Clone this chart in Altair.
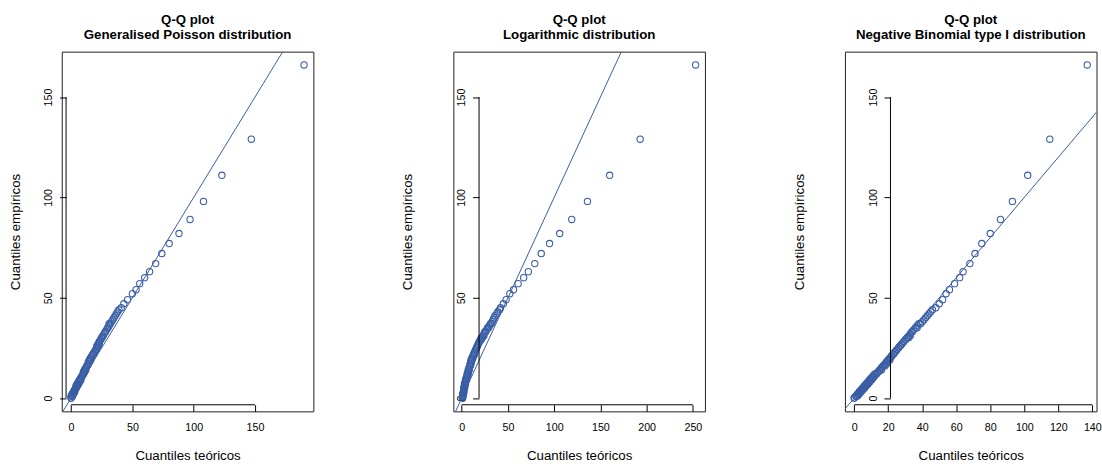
import altair as alt
import pandas as pd

# ---------------- data ----------------
emp = [0, 0, 1, 1, 1, 1, 2, 2, 2, 3, 3, 3, 3, 4, 4, 4, 5, 5, 5, 5, 6, 6, 6, 7, 7, 7, 7, 8, 8, 8, 9, 9, 9, 9, 10, 10, 10,
       11, 11, 12, 12, 12, 13, 13, 13, 14, 14, 14, 15, 15, 16, 16, 16, 17, 17, 18, 18, 19, 19, 19, 20, 20,
       21, 21, 22, 22, 22, 23, 23, 24, 24, 25, 25, 26, 26, 26, 27, 27, 28, 28, 29, 29, 30, 30, 30, 31, 31,
       32, 33, 33, 34, 35, 35, 36, 37, 37, 38,
       39, 40, 41, 42, 43, 44, 45, 47, 49,
       52, 54, 57, 60, 63, 67, 72, 77, 82, 89, 98, 111, 129, 166]

teo_gp = [0, 0, 0, 1, 1, 1, 1, 1, 2, 2, 2, 2, 3, 3, 3, 3, 4, 4, 4, 4, 4, 5, 5, 5, 5, 6, 6, 6, 6, 7, 7, 7, 7, 8, 8, 8, 8,
          9, 9, 10, 10, 10, 10, 11, 11, 11, 11, 12, 12, 12, 13, 13, 13, 14, 14, 14, 15, 15, 15, 16, 16, 16,
          17, 17, 18, 18, 18, 19, 19, 20, 20, 21, 21, 21, 22, 22, 22, 23, 23, 23, 24, 24, 25, 25, 25, 26, 26,
          27, 28, 28, 29, 30, 30, 31, 31, 32, 33,
          34, 35, 36, 37, 38, 39, 41, 43, 46,
          50, 53, 56, 60, 64, 69, 74, 80, 88, 97, 108, 123, 147, 190]

teo_log = [1, 1, 1, 1, 1, 1, 1, 1, 2, 2, 2, 2, 2, 2, 2, 2, 2, 3, 3, 3, 3, 3, 3, 3, 3, 4, 4, 4, 4, 4, 4, 5, 5, 5, 5, 5, 5,
           6, 6, 6, 6, 7, 7, 7, 7, 7, 8, 8, 8, 8, 9, 9, 9, 9, 10, 10, 10, 10, 11, 11, 11, 12,
           12, 13, 13, 13, 14, 14, 14, 15, 15, 16, 16, 17, 17, 17, 18, 18, 19, 19, 20, 21, 21, 22, 22, 23, 24,
           24, 25, 26, 27, 28, 29, 30, 31, 32, 33,
           34, 35, 36, 38, 39, 41, 42, 45, 48,
           52, 56, 61, 67, 72, 79, 86, 95, 106, 119, 136, 160, 193, 253]

teo_nb = [0, 0, 1, 1, 1, 2, 2, 2, 3, 3, 3, 3, 4, 4, 4, 5, 5, 5, 6, 6, 6, 6, 7, 7, 7, 8, 8, 8, 9, 9, 9, 9, 10, 10, 10, 11, 11,
          11, 12, 12, 13, 13, 14, 14, 14, 15, 15, 16, 16, 16, 17, 17, 18, 18, 19, 19, 19, 20, 20, 21, 21, 21,
          22, 22, 23, 23, 23, 24, 24, 25, 25, 26, 26, 27, 27, 27, 28, 28, 29, 29, 30, 30, 31, 31, 32, 32, 33,
          33, 34, 34, 35, 36, 37, 37, 38, 39, 40,
          41, 42, 43, 44, 45, 46, 48, 50, 52,
          54, 56, 59, 62, 64, 68, 71, 75, 80, 86, 93, 102, 115, 137]

titles = ["Generalised Poisson distribution", "Logarithmic distribution",
          "Negative Binomial type I distribution"]
x_ticks = [[0, 50, 100, 150], [0, 50, 100, 150, 200, 250], [0, 20, 40, 60, 80, 100, 120, 140]]
y_ticks = [0, 50, 100, 150]
main_title = "Q-Q plot"
x_title = "Cuantiles teóricos"
y_title = "Cuantiles empíricos"

# ---------------- style ----------------
FONT = "Liberation Sans"
COL = "#3A5EA5"
W, H = 252.5, 361
y_axis_inset = [4.3, 25.8, 45.7]   # where R drew the (shifted) y axis inside the box
x_axis_inset = 6.6


def r_range(vals):
    lo, hi = min(vals), max(vals)
    ext = 0.04 * (hi - lo)
    return [lo - ext, hi + ext]


def panel(teo, subtitle, xt, inset):
    df = pd.DataFrame({"teo": teo, "emp": emp})
    xs = alt.Scale(domain=r_range(teo), nice=False, zero=False)
    ys = alt.Scale(domain=r_range(emp), nice=False, zero=False)

    x_axis = alt.Axis(values=xt, title=x_title, grid=False, domain=False, offset=-x_axis_inset,
                      tickSize=6.6, tickColor="black", tickWidth=1,
                      labelFont=FONT, labelFontSize=10.7, labelColor="black", labelPadding=11,
                      labelFlush=False, labelOverlap=False, format="d",
                      titleFont=FONT, titleFontSize=13.3, titleFontWeight="normal", titleColor="black",
                      titleY=405 - (H - x_axis_inset), titleBaseline="middle")
    y_axis = alt.Axis(values=y_ticks, title=y_title, grid=False, domain=False, offset=-inset,
                      tickSize=6.5, tickColor="black", tickWidth=1,
                      labelFont=FONT, labelFontSize=10.7, labelColor="black", labelPadding=6,
                      labelAngle=-90, labelFlush=False, labelOverlap=False, format="d",
                      titleFont=FONT, titleFontSize=13.3, titleFontWeight="normal", titleColor="black",
                      titleX=-46 - inset, titleY=H / 2, titleBaseline="middle", titleAngle=-90)

    pts = alt.Chart(df).mark_point(shape="circle", filled=False, size=40, strokeWidth=1.1,
                                   color=COL, opacity=1).encode(
        x=alt.X("teo:Q", scale=xs, axis=x_axis),
        y=alt.Y("emp:Q", scale=ys, axis=y_axis),
    )
    ab = pd.DataFrame({"teo": [-100, 400], "emp": [-100, 400]})
    line = alt.Chart(ab).mark_line(clip=True, color=COL, strokeWidth=1).encode(
        x=alt.X("teo:Q", scale=xs, axis=x_axis),
        y=alt.Y("emp:Q", scale=ys, axis=y_axis),
    )
    yr = pd.DataFrame({"emp": [y_ticks[0]], "hi": [y_ticks[-1]]})
    yrule = alt.Chart(yr).mark_rule(color="black", strokeWidth=1).encode(
        y=alt.Y("emp:Q", scale=ys, axis=y_axis), y2="hi:Q", x=alt.value(inset))
    xr = pd.DataFrame({"teo": [xt[0]], "hi": [xt[-1]]})
    xrule = alt.Chart(xr).mark_rule(color="black", strokeWidth=1).encode(
        x=alt.X("teo:Q", scale=xs, axis=x_axis), x2="hi:Q", y=alt.value(H - x_axis_inset))

    return alt.layer(pts, line, yrule, xrule).properties(
        width=W, height=H,
        title=alt.TitleParams(text=[main_title, subtitle], font=FONT, fontSize=13.3,
                              fontWeight="bold", color="black", anchor="middle", frame="group",
                              lineHeight=15, offset=10),
    )


panels = [panel(t, s, xt, ins) for t, s, xt, ins in
          zip([teo_gp, teo_log, teo_nb], titles, x_ticks, y_axis_inset)]

chart = alt.hconcat(*panels, spacing=140, bounds="flush").configure_view(
    stroke="#222", strokeWidth=1
).properties(
    padding={"left": 8, "top": 12, "right": 0, "bottom": 0}, background="white"
)

chart.save("out.html", embed_options={"renderer": "svg", "actions": False})
